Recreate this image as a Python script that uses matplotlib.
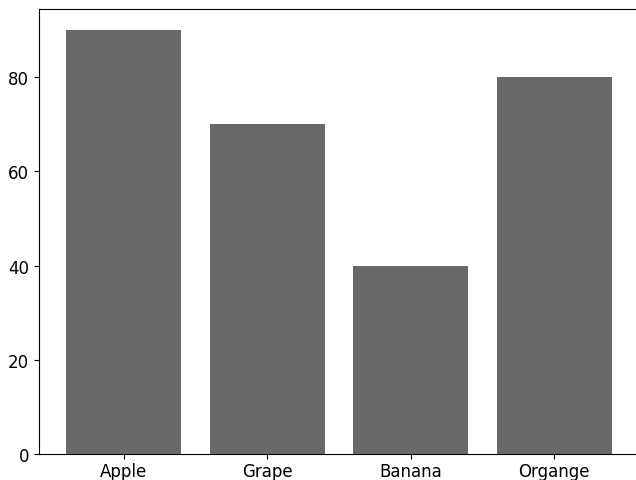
import matplotlib
matplotlib.use('Agg')
import matplotlib.pyplot as plt

frutas = ['Apple', 'Grape', 'Banana', 'Organge']
cantidades = [90, 70, 40, 80]

plt.rcParams['font.size'] = 12

fig = plt.figure(figsize=(6.36, 4.81), dpi=100)
# el borde derecho queda fuera del recorte en la imagen original
ax = fig.add_axes([39 / 636, 26 / 481, 600 / 636, 445 / 481])
ax.bar(frutas, cantidades, color='#696969')
ax.spines['right'].set_visible(False)
ax.tick_params(axis='x', pad=2.5)
fig.savefig('out.png', dpi=100)
